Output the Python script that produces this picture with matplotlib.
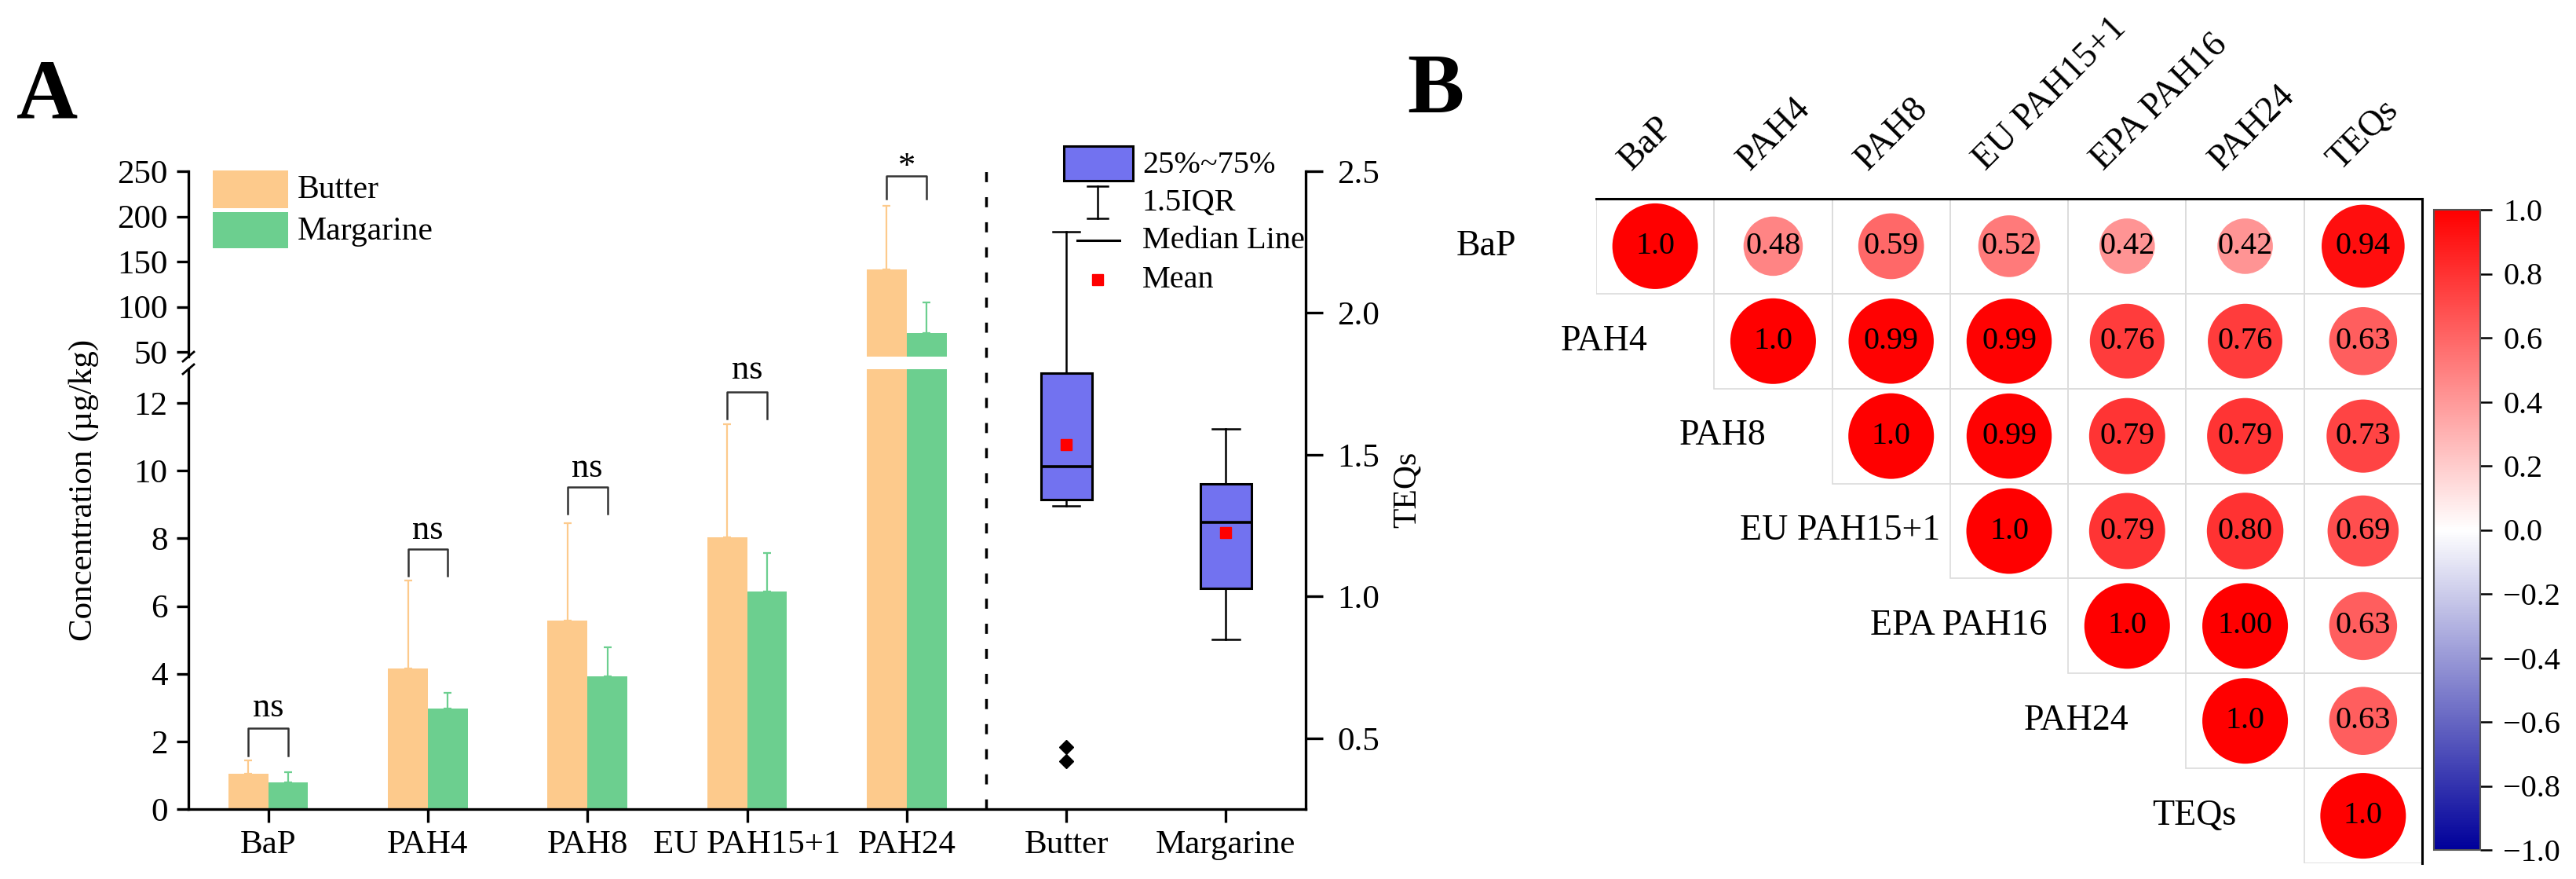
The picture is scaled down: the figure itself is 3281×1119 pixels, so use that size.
import numpy as np
import matplotlib.pyplot as plt
from matplotlib.colors import LinearSegmentedColormap
from matplotlib.patches import Rectangle
from matplotlib.lines import Line2D

plt.rcParams['font.family'] = ['Liberation Serif', 'DejaVu Serif']

# ---- panel A: concentrations (ug/kg), mean and upper SD ----
groups = ['BaP', 'PAH4', 'PAH8', 'EU PAH15+1', 'PAH24']
butter_mean = [1.04, 4.16, 5.58, 8.04, 141.3]
butter_sd = [0.40, 2.60, 2.86, 3.33, 70.4]
marg_mean = [0.79, 2.97, 3.92, 6.44, 70.9]
marg_sd = [0.30, 0.47, 0.87, 1.12, 33.9]

sig_labels = ['ns', 'ns', 'ns', 'ns', '*']
sig_top = [2.39, 7.68, 9.52, 12.32, 244.8]
sig_leg = [1.58, 6.89, 8.73, 11.54, 220.0]
sig_text = [2.74, 7.98, 9.82, 12.72, 245.0]

# ---- panel A: TEQs box plots ----
box_names = ['Butter', 'Margarine']
teq_whislo = [1.320, 0.848]
teq_q1 = [1.343, 1.028]
teq_med = [1.459, 1.262]
teq_q3 = [1.787, 1.398]
teq_whishi = [2.287, 1.591]
teq_mean = [1.536, 1.226]
teq_fliers = [[0.470, 0.420], []]

# ---- panel B: correlation (upper triangle, row by row) ----
corr_vars = ['BaP', 'PAH4', 'PAH8', 'EU PAH15+1', 'EPA PAH16', 'PAH24', 'TEQs']
corr_rows = [
    [1.0, 0.48, 0.59, 0.52, 0.42, 0.42, 0.94],
    [1.0, 0.99, 0.99, 0.76, 0.76, 0.63],
    [1.0, 0.99, 0.79, 0.79, 0.73],
    [1.0, 0.79, 0.80, 0.69],
    [1.0, 1.00, 0.63],
    [1.0, 0.63],
    [1.0],
]

W, H = 3281, 1119
fig = plt.figure(figsize=(W / 100, H / 100), dpi=100)


def rect(x0, y0, x1, y1):
    # pixel box (y from top) -> figure fraction
    return [x0 / W, 1 - y1 / H, (x1 - x0) / W, (y1 - y0) / H]


c_butter = '#FDCA8C'
c_marg = '#6CCF8F'
c_box = '#7272F0'
lw_ax = 2.4

ax_lo = fig.add_axes(rect(240, 470, 1663, 1030))
ax_hi = fig.add_axes(rect(240, 218, 1663, 454))
ax_bx = fig.add_axes(rect(240, 218, 1663, 1030))
ax_bx.patch.set_alpha(0)

x = np.arange(1, len(groups) + 1)
bw = 0.25
for ax in (ax_lo, ax_hi):
    ax.bar(x - bw / 2, butter_mean, bw, color=c_butter,
           yerr=[np.zeros(len(x)), butter_sd],
           error_kw=dict(ecolor=c_butter, elinewidth=1.6, capsize=3.6, capthick=1.6))
    ax.bar(x + bw / 2, marg_mean, bw, color=c_marg,
           yerr=[np.zeros(len(x)), marg_sd],
           error_kw=dict(ecolor=c_marg, elinewidth=1.6, capsize=3.6, capthick=1.6))
    ax.set_xlim(0.5, 7.5)
    for s in ('top', 'right'):
        ax.spines[s].set_visible(False)
    ax.spines['left'].set_linewidth(lw_ax)
    ax.spines['bottom'].set_linewidth(lw_ax)
    ax.tick_params(axis='y', direction='out', length=11, width=lw_ax, labelsize=31, pad=8)

ax_lo.set_ylim(0, 13)
ax_lo.set_yticks(range(0, 13, 2))
ax_lo.set_xticks(range(1, 8))
ax_lo.set_xticklabels(groups + box_names)
ax_lo.tick_params(axis='x', direction='out', length=12, width=lw_ax, labelsize=31, pad=7)

ax_hi.set_ylim(45, 250)
ax_hi.set_yticks(range(50, 251, 50))
ax_hi.set_xticks([])
ax_hi.spines['bottom'].set_visible(False)

# significance brackets
for i in range(len(groups)):
    ax = ax_lo if sig_top[i] < 13 else ax_hi
    xl, xr = x[i] - bw / 2, x[i] + bw / 2
    ax.plot([xl, xl, xr, xr], [sig_leg[i], sig_top[i], sig_top[i], sig_leg[i]],
            color='#333333', lw=1.8, clip_on=False)
    ax.text(x[i], sig_text[i], sig_labels[i], ha='center', va='baseline',
            fontsize=32, clip_on=False)

# axis break marks on the left spine
for yy in (454, 470):
    fig.add_artist(Line2D([233 / W, 247 / W], [1 - (yy + 6) / H, 1 - (yy - 6) / H],
                          color='black', lw=2.0, transform=fig.transFigure))

# TEQs box plots on the right axis
stats = []
for i in range(len(box_names)):
    stats.append(dict(label=box_names[i], whislo=teq_whislo[i], q1=teq_q1[i],
                      med=teq_med[i], q3=teq_q3[i], whishi=teq_whishi[i],
                      mean=teq_mean[i], fliers=teq_fliers[i]))
ax_bx.bxp(stats, positions=[6, 7], widths=0.32, capwidths=0.17, showmeans=True,
          patch_artist=True, manage_ticks=False,
          boxprops=dict(facecolor=c_box, edgecolor='black', linewidth=2.2),
          medianprops=dict(color='black', linewidth=2.6),
          whiskerprops=dict(color='black', linewidth=1.8),
          capprops=dict(color='black', linewidth=1.8),
          meanprops=dict(marker='s', markerfacecolor='red', markeredgecolor='red', markersize=10),
          flierprops=dict(marker='D', markerfacecolor='black', markeredgecolor='black', markersize=9))
ax_bx.axvline(5.5, color='black', lw=2.5, linestyle=(0, (3.7, 5.5)))
ax_bx.set_xlim(0.5, 7.5)
ax_bx.set_ylim(0.25, 2.5)
ax_bx.set_xticks([])
ax_bx.yaxis.tick_right()
ax_bx.set_yticks([0.5, 1.0, 1.5, 2.0, 2.5])
ax_bx.set_yticklabels(['0.5', '1.0', '1.5', '2.0', '2.5'])
ax_bx.tick_params(axis='y', direction='out', length=16, width=lw_ax, labelsize=31, pad=13)
for s in ('left', 'top', 'bottom'):
    ax_bx.spines[s].set_visible(False)
ax_bx.spines['right'].set_linewidth(lw_ax)


def fx(px):
    return (px - 240) / 1423


def fy(py):
    return (1030 - py) / 812


T = ax_bx.transAxes
# Butter / Margarine legend
ax_bx.add_patch(Rectangle((fx(271), fy(265)), fx(367) - fx(271), fy(217) - fy(265),
                          facecolor=c_butter, lw=0, transform=T, clip_on=False))
ax_bx.add_patch(Rectangle((fx(271), fy(316)), fx(367) - fx(271), fy(270) - fy(316),
                          facecolor=c_marg, lw=0, transform=T, clip_on=False))
ax_bx.text(fx(379), fy(242), 'Butter', transform=T, fontsize=30, va='center')
ax_bx.text(fx(379), fy(295), 'Margarine', transform=T, fontsize=30, va='center')

# box plot legend
ax_bx.add_patch(Rectangle((fx(1355), fy(230)), fx(1443) - fx(1355), fy(186) - fy(230),
                          facecolor=c_box, edgecolor='black', lw=2.2, transform=T, clip_on=False))
ax_bx.add_line(Line2D([fx(1398)] * 2, [fy(237), fy(278)], color='black', lw=1.8, transform=T, clip_on=False))
for yy in (237, 278):
    ax_bx.add_line(Line2D([fx(1385), fx(1411)], [fy(yy)] * 2, color='black', lw=1.8,
                          transform=T, clip_on=False))
ax_bx.add_line(Line2D([fx(1372), fx(1426)], [fy(306)] * 2, color='black', lw=2.2,
                      transform=T, clip_on=False))
ax_bx.add_line(Line2D([fx(1398)], [fy(356)], marker='s', color='red', markersize=10,
                      transform=T, clip_on=False))
for txt, yy in (('25%~75%', 210), ('1.5IQR', 258), ('Median Line', 306), ('Mean', 356)):
    ax_bx.text(fx(1455), fy(yy), txt, transform=T, fontsize=29, va='center')

fig.text(107 / W, 1 - 624 / H, 'Concentration (µg/kg)', rotation=90, ha='center', va='center', fontsize=31)
fig.text(1793 / W, 1 - 623 / H, 'TEQs', rotation=90, ha='center', va='center', fontsize=30)
fig.text(60 / W, 1 - 125 / H, 'A', fontsize=78, fontweight='bold', ha='center', va='center')
fig.text(1828 / W, 1 - 117 / H, 'B', fontsize=78, fontweight='bold', ha='center', va='center')

# ---- panel B ----
ax_c = fig.add_axes(rect(2033, 253, 3085, 1099))
ax_c.set_xlim(-0.5, 6.5)
ax_c.set_ylim(6.5, -0.5)
cmap = LinearSegmentedColormap.from_list('bwr_navy', ['#00009A', '#FFFFFF', '#FF0000'])

xs, ys, vs = [], [], []
for i, row in enumerate(corr_rows):
    for k, v in enumerate(row):
        j = i + k
        xs.append(j)
        ys.append(i)
        vs.append(v)
        ax_c.add_patch(Rectangle((j - 0.5, i - 0.5), 1, 1, fill=False, ec='#DCDCDC', lw=1.2, zorder=1))
        ax_c.text(j, i, '1.0' if k == 0 else f'{v:.2f}', ha='center', va='center', fontsize=29, zorder=3)
vs = np.array(vs)
sc = ax_c.scatter(xs, ys, s=np.abs(vs) * 6160, c=vs, cmap=cmap, vmin=-1, vmax=1,
                  linewidths=0, zorder=2)

for i, name in enumerate(corr_vars):
    ax_c.text(i - 1.43, i, name, ha='center', va='center', fontsize=33)
    ax_c.text(i - 0.2, -0.79, name, rotation=45, rotation_mode='anchor',
              ha='left', va='baseline', fontsize=33)

ax_c.set_xticks([])
ax_c.set_yticks([])
ax_c.spines['left'].set_visible(False)
ax_c.spines['bottom'].set_visible(False)
ax_c.spines['top'].set_linewidth(2.2)
ax_c.spines['right'].set_linewidth(2.2)

cax = fig.add_axes(rect(3100, 267, 3159, 1082))
cb = fig.colorbar(sc, cax=cax, ticks=np.round(np.linspace(-1, 1, 11), 1))
cb.outline.set_edgecolor('#555555')
cb.outline.set_linewidth(1.5)
cb.ax.tick_params(length=11, width=1.8, labelsize=29, pad=10)

fig.savefig('out.png', dpi=100)
